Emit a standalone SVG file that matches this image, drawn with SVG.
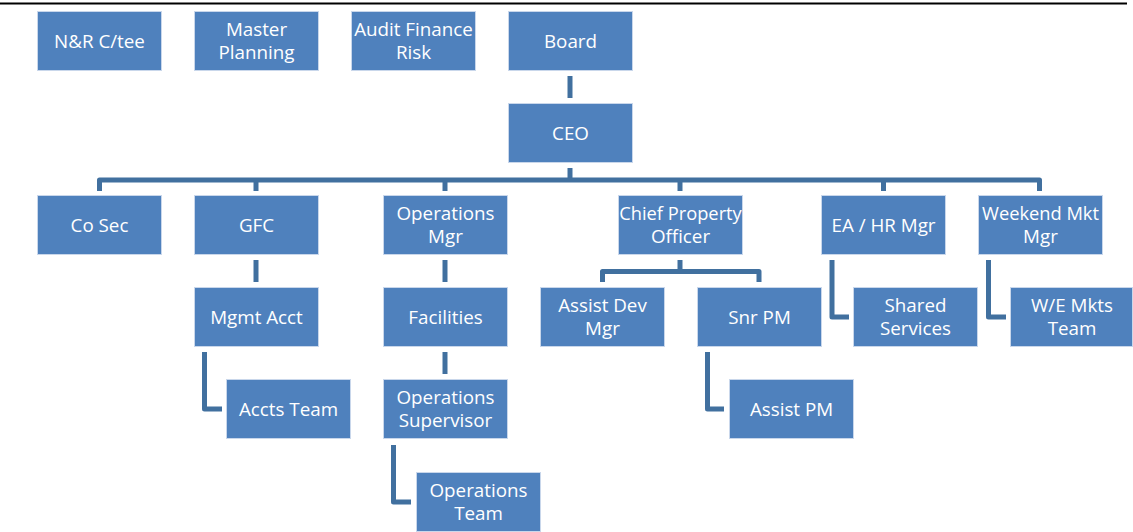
<svg xmlns="http://www.w3.org/2000/svg" width="1133" height="532" viewBox="0 0 1133 532">
  <style>
    .box { fill: #4F81BD; stroke: #C9D7EB; stroke-width: 1; }
    .lbl { fill: #FFFFFF; font-family: "Open Sans", "Liberation Sans", sans-serif; font-size: 18.8px; text-anchor: middle; }
    .conn { fill: none; stroke: #41709F; stroke-width: 5; stroke-linejoin: round; stroke-linecap: butt; }
  </style>
  <rect x="0" y="0" width="1133" height="532" fill="#FFFFFF"/>
  <!-- page rule -->
  <line x1="0" y1="3.5" x2="1127" y2="3.5" stroke="#000000" stroke-width="2.2"/>

  <!-- connectors -->
  <g id="connectors" class="conn">
    <path d="M570,76 V98"/>
    <path d="M570,168 V180"/>
    <path d="M99.5,191 V180 H1039.5 V191"/>
    <path d="M256,180 V191"/>
    <path d="M445,180 V191"/>
    <path d="M680,180 V191"/>
    <path d="M883.5,180 V191"/>
    <path d="M256,260 V282"/>
    <path d="M445,260 V282"/>
    <path d="M445,352 V374"/>
    <path d="M680,260 V271.5"/>
    <path d="M602.5,282 V271.5 H759 V282"/>
    <path d="M204.5,352 V409 H222"/>
    <path d="M393.5,445 V502 H411"/>
    <path d="M707.5,352 V409 H724"/>
    <path d="M832,260 V317 H849"/>
    <path d="M988.5,260 V317 H1006"/>
  </g>

  <g id="n-nr">
    <rect class="box" x="37.5" y="11.5" width="124" height="59"/>
    <text class="lbl" x="99.5" y="47.5">N&amp;R C/tee</text>
  </g>
  <g id="n-master">
    <rect class="box" x="194.5" y="11.5" width="124" height="59"/>
    <text class="lbl" x="256.5" y="36">Master<tspan x="256.5" dy="22.5">Planning</tspan></text>
  </g>
  <g id="n-audit">
    <rect class="box" x="351.5" y="11.5" width="124" height="59"/>
    <text class="lbl" x="413.5" y="36">Audit Finance<tspan x="413.5" dy="22.5">Risk</tspan></text>
  </g>
  <g id="n-board">
    <rect class="box" x="508.5" y="11.5" width="124" height="59"/>
    <text class="lbl" x="570.5" y="47.5">Board</text>
  </g>
  <g id="n-ceo">
    <rect class="box" x="508.5" y="103.5" width="124" height="59"/>
    <text class="lbl" x="570.5" y="139.5">CEO</text>
  </g>

  <g id="n-cosec">
    <rect class="box" x="37.5" y="195.5" width="124" height="59"/>
    <text class="lbl" x="99.5" y="231.5">Co Sec</text>
  </g>
  <g id="n-gfc">
    <rect class="box" x="194.5" y="195.5" width="124" height="59"/>
    <text class="lbl" x="256.5" y="231.5">GFC</text>
  </g>
  <g id="n-opsmgr">
    <rect class="box" x="383.5" y="195.5" width="124" height="59"/>
    <text class="lbl" x="445.5" y="220">Operations<tspan x="445.5" dy="22.5">Mgr</tspan></text>
  </g>
  <g id="n-cpo">
    <rect class="box" x="618.5" y="195.5" width="124" height="59"/>
    <text class="lbl" x="680.5" y="220"><tspan font-size="18.3px">Chief Property</tspan><tspan x="680.5" dy="22.5">Officer</tspan></text>
  </g>
  <g id="n-eahr">
    <rect class="box" x="821.5" y="195.5" width="124" height="59"/>
    <text class="lbl" x="883.5" y="231.5">EA / HR Mgr</text>
  </g>
  <g id="n-weekend">
    <rect class="box" x="978.5" y="195.5" width="124" height="59"/>
    <text class="lbl" x="1040.5" y="220"><tspan font-size="18.3px">Weekend Mkt</tspan><tspan x="1040.5" dy="22.5">Mgr</tspan></text>
  </g>

  <g id="n-mgmtacct">
    <rect class="box" x="194.5" y="287.5" width="124" height="59"/>
    <text class="lbl" x="256.5" y="323.5">Mgmt Acct</text>
  </g>
  <g id="n-facilities">
    <rect class="box" x="383.5" y="287.5" width="124" height="59"/>
    <text class="lbl" x="445.5" y="323.5">Facilities</text>
  </g>
  <g id="n-assistdev">
    <rect class="box" x="540.5" y="287.5" width="124" height="59"/>
    <text class="lbl" x="602.5" y="312">Assist Dev<tspan x="602.5" dy="22.5">Mgr</tspan></text>
  </g>
  <g id="n-snrpm">
    <rect class="box" x="697.5" y="287.5" width="124" height="59"/>
    <text class="lbl" x="759.5" y="323.5">Snr PM</text>
  </g>
  <g id="n-shared">
    <rect class="box" x="853.5" y="287.5" width="124" height="59"/>
    <text class="lbl" x="915.5" y="312">Shared<tspan x="915.5" dy="22.5">Services</tspan></text>
  </g>
  <g id="n-wemkts">
    <rect class="box" x="1010.5" y="287.5" width="122" height="59"/>
    <text class="lbl" x="1072" y="312">W/E Mkts<tspan x="1072" dy="22.5">Team</tspan></text>
  </g>

  <g id="n-accts">
    <rect class="box" x="226.5" y="379.5" width="124" height="59"/>
    <text class="lbl" x="288.5" y="415.5">Accts Team</text>
  </g>
  <g id="n-opssup">
    <rect class="box" x="383.5" y="379.5" width="124" height="59"/>
    <text class="lbl" x="445.5" y="404">Operations<tspan x="445.5" dy="22.5">Supervisor</tspan></text>
  </g>
  <g id="n-assistpm">
    <rect class="box" x="729.5" y="379.5" width="124" height="59"/>
    <text class="lbl" x="791.5" y="415.5">Assist PM</text>
  </g>

  <g id="n-opsteam">
    <rect class="box" x="416.5" y="472.5" width="124" height="59"/>
    <text class="lbl" x="478.5" y="497">Operations<tspan x="478.5" dy="22.5">Team</tspan></text>
  </g>
</svg>
